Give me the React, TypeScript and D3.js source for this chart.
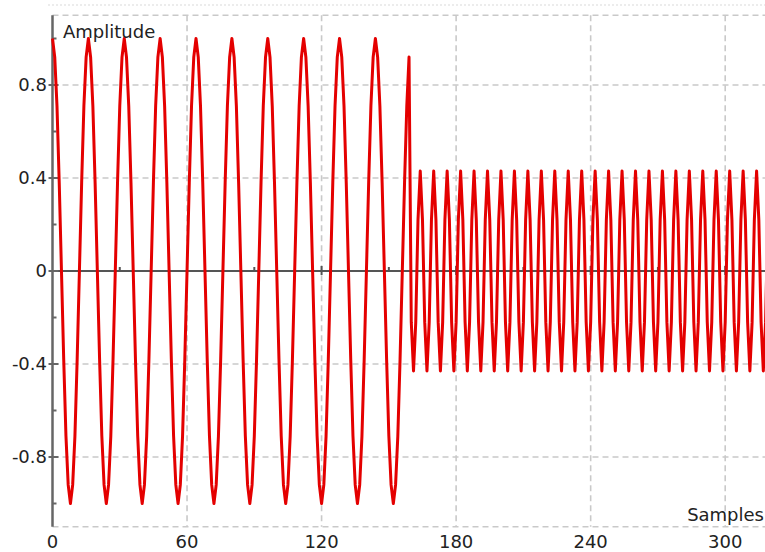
import React, { useRef, useEffect } from 'react';
import * as d3 from 'd3';

// samples 0..159: slow tone, 16 samples per cycle
const lowTone = [
  1, 0.92, 0.71, 0.38, 0, -0.38, -0.71, -0.92, -1, -0.92, -0.71, -0.38, 0, 0.38, 0.71, 0.92,
  1, 0.92, 0.71, 0.38, 0, -0.38, -0.71, -0.92, -1, -0.92, -0.71, -0.38, 0, 0.38, 0.71, 0.92,
  1, 0.92, 0.71, 0.38, 0, -0.38, -0.71, -0.92, -1, -0.92, -0.71, -0.38, 0, 0.38, 0.71, 0.92,
  1, 0.92, 0.71, 0.38, 0, -0.38, -0.71, -0.92, -1, -0.92, -0.71, -0.38, 0, 0.38, 0.71, 0.92,
  1, 0.92, 0.71, 0.38, 0, -0.38, -0.71, -0.92, -1, -0.92, -0.71, -0.38, 0, 0.38, 0.71, 0.92,
  1, 0.92, 0.71, 0.38, 0, -0.38, -0.71, -0.92, -1, -0.92, -0.71, -0.38, 0, 0.38, 0.71, 0.92,
  1, 0.92, 0.71, 0.38, 0, -0.38, -0.71, -0.92, -1, -0.92, -0.71, -0.38, 0, 0.38, 0.71, 0.92,
  1, 0.92, 0.71, 0.38, 0, -0.38, -0.71, -0.92, -1, -0.92, -0.71, -0.38, 0, 0.38, 0.71, 0.92,
  1, 0.92, 0.71, 0.38, 0, -0.38, -0.71, -0.92, -1, -0.92, -0.71, -0.38, 0, 0.38, 0.71, 0.92,
  1, 0.92, 0.71, 0.38, 0, -0.38, -0.71, -0.92, -1, -0.92, -0.71, -0.38, 0, 0.38, 0.71, 0.92,
];

// samples 160..321: fast tone, 6 samples per cycle, lower amplitude
const highTone = [
  -0.22, -0.43, -0.22, 0.22, 0.43, 0.22, -0.22, -0.43, -0.22, 0.22, 0.43, 0.22, -0.22, -0.43, -0.22, 0.22, 0.43, 0.22,
  -0.22, -0.43, -0.22, 0.22, 0.43, 0.22, -0.22, -0.43, -0.22, 0.22, 0.43, 0.22, -0.22, -0.43, -0.22, 0.22, 0.43, 0.22,
  -0.22, -0.43, -0.22, 0.22, 0.43, 0.22, -0.22, -0.43, -0.22, 0.22, 0.43, 0.22, -0.22, -0.43, -0.22, 0.22, 0.43, 0.22,
  -0.22, -0.43, -0.22, 0.22, 0.43, 0.22, -0.22, -0.43, -0.22, 0.22, 0.43, 0.22, -0.22, -0.43, -0.22, 0.22, 0.43, 0.22,
  -0.22, -0.43, -0.22, 0.22, 0.43, 0.22, -0.22, -0.43, -0.22, 0.22, 0.43, 0.22, -0.22, -0.43, -0.22, 0.22, 0.43, 0.22,
  -0.22, -0.43, -0.22, 0.22, 0.43, 0.22, -0.22, -0.43, -0.22, 0.22, 0.43, 0.22, -0.22, -0.43, -0.22, 0.22, 0.43, 0.22,
  -0.22, -0.43, -0.22, 0.22, 0.43, 0.22, -0.22, -0.43, -0.22, 0.22, 0.43, 0.22, -0.22, -0.43, -0.22, 0.22, 0.43, 0.22,
  -0.22, -0.43, -0.22, 0.22, 0.43, 0.22, -0.22, -0.43, -0.22, 0.22, 0.43, 0.22, -0.22, -0.43, -0.22, 0.22, 0.43, 0.22,
  -0.22, -0.43, -0.22, 0.22, 0.43, 0.22, -0.22, -0.43, -0.22, 0.22, 0.43, 0.22, -0.22, -0.43, -0.22, 0.22, 0.43, 0.22,
];

const xTickValues = [0, 60, 120, 180, 240, 300];
const xMinorTicks = [30, 90, 150, 210, 270];
const yTickValues = [-0.8, -0.4, 0, 0.4, 0.8];
const yTickLabels = ['-0.8', '-0.4', '0', '0.4', '0.8'];
const yMinorTicks = [-1, -0.6, -0.2, 0.2, 0.6, 1];

const App = () => {
  const svgRef = useRef<SVGSVGElement>(null);

  useEffect(() => {
    if (!svgRef.current) return;
    const width = 765;
    const samples = lowTone.concat(highTone);
    const font = "'DejaVu Sans', Verdana, sans-serif";

    const svg = d3.select(svgRef.current);
    svg.selectAll('*').remove();

    const x = d3.scaleLinear().domain([0, 300]).range([52.5, 725.2]);
    const y = d3.scaleLinear().domain([-1.1, 1.1]).range([526.75, 15.25]);
    const x0 = x(0);
    const yTop = y(1.1);
    const yBottom = y(-1.1);

    // faint frame line at the very top
    svg.append('line')
      .attr('x1', 48).attr('x2', width)
      .attr('y1', 5).attr('y2', 5)
      .attr('stroke', '#e6e6e6').attr('stroke-width', 1.5)
      .attr('stroke-dasharray', '2,2');

    // grid
    const grid = svg.append('g')
      .attr('stroke', '#c9c9c9')
      .attr('stroke-width', 1.6)
      .attr('stroke-dasharray', '6,4');

    grid.selectAll('line.h')
      .data([-1.1, ...yTickValues.filter(d => d !== 0), 1.1])
      .enter().append('line')
      .attr('class', 'h')
      .attr('x1', x0).attr('x2', width)
      .attr('y1', d => y(d)).attr('y2', d => y(d));

    grid.selectAll('line.v')
      .data(xTickValues.filter(d => d !== 0))
      .enter().append('line')
      .attr('class', 'v')
      .attr('x1', d => x(d)).attr('x2', d => x(d))
      .attr('y1', yTop).attr('y2', yBottom);

    // zero line (x axis)
    svg.append('line')
      .attr('x1', x0).attr('x2', width)
      .attr('y1', y(0)).attr('y2', y(0))
      .attr('stroke', '#555').attr('stroke-width', 2);

    svg.selectAll('line.xmajor')
      .data(xTickValues.filter(d => d !== 0))
      .enter().append('line')
      .attr('class', 'xmajor')
      .attr('x1', d => x(d)).attr('x2', d => x(d))
      .attr('y1', y(0) - 5).attr('y2', y(0) + 4)
      .attr('stroke', '#555').attr('stroke-width', 2);

    svg.selectAll('line.xminor')
      .data(xMinorTicks)
      .enter().append('line')
      .attr('class', 'xminor')
      .attr('x1', d => x(d)).attr('x2', d => x(d))
      .attr('y1', y(0) - 4).attr('y2', y(0))
      .attr('stroke', '#555').attr('stroke-width', 2);

    // y axis
    svg.append('line')
      .attr('x1', x0).attr('x2', x0)
      .attr('y1', yTop).attr('y2', yBottom)
      .attr('stroke', '#666').attr('stroke-width', 2.5);

    svg.selectAll('line.ymajor')
      .data(yTickValues)
      .enter().append('line')
      .attr('class', 'ymajor')
      .attr('x1', x0 - 4).attr('x2', x0 + 6)
      .attr('y1', d => y(d)).attr('y2', d => y(d))
      .attr('stroke', '#666').attr('stroke-width', 2);

    svg.selectAll('line.yminor')
      .data(yMinorTicks)
      .enter().append('line')
      .attr('class', 'yminor')
      .attr('x1', x0).attr('x2', x0 + 4)
      .attr('y1', d => y(d)).attr('y2', d => y(d))
      .attr('stroke', '#666').attr('stroke-width', 2);

    // signal
    const line = d3.line<number>()
      .x((d, i) => x(i))
      .y(d => y(d));

    svg.append('path')
      .datum(samples)
      .attr('d', line)
      .attr('fill', 'none')
      .attr('stroke', '#e40000')
      .attr('stroke-width', 3)
      .attr('stroke-linejoin', 'round');

    // tick labels
    svg.selectAll('text.ylabel')
      .data(yTickValues)
      .enter().append('text')
      .attr('class', 'ylabel')
      .attr('x', 47)
      .attr('y', d => y(d) + 6)
      .attr('text-anchor', 'end')
      .attr('font-family', font)
      .attr('font-size', 18)
      .attr('fill', '#222')
      .text((d, i) => yTickLabels[i]);

    svg.selectAll('text.xlabel')
      .data(xTickValues)
      .enter().append('text')
      .attr('class', 'xlabel')
      .attr('x', d => x(d))
      .attr('y', 548)
      .attr('text-anchor', 'middle')
      .attr('font-family', font)
      .attr('font-size', 18)
      .attr('fill', '#222')
      .text(d => d);

    // axis titles
    svg.append('text')
      .attr('x', 63)
      .attr('y', 38)
      .attr('font-family', font)
      .attr('font-size', 18)
      .attr('fill', '#222')
      .text('Amplitude');

    svg.append('text')
      .attr('x', 764)
      .attr('y', 521)
      .attr('text-anchor', 'end')
      .attr('font-family', font)
      .attr('font-size', 18)
      .attr('fill', '#222')
      .text('Samples');
  }, []);

  return (
    <svg
      ref={svgRef}
      width={765}
      height={552}
      style={{ position: 'absolute', left: 0, top: 0, background: '#fff' }}
    />
  );
};

export default App;
